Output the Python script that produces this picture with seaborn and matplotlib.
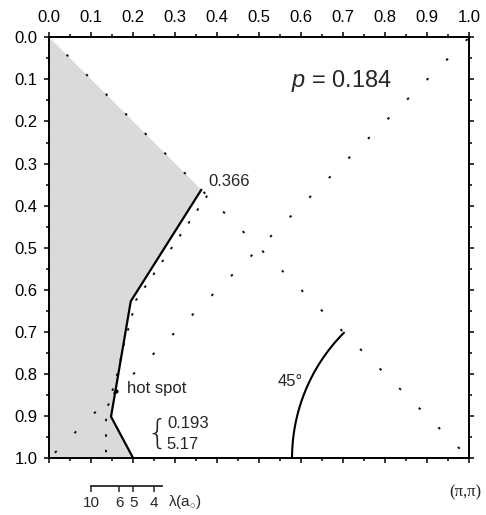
import numpy as np
import pandas as pd
import matplotlib
matplotlib.use("Agg")
import matplotlib.pyplot as plt
import seaborn as sns

# ---------------- data ----------------
ticks = [0.0, 0.1, 0.2, 0.3, 0.4, 0.5, 0.6, 0.7, 0.8, 0.9, 1.0]
tick_labels = ["0.0", "0.1", "0.2", "0.3", "0.4", "0.5", "0.6", "0.7", "0.8", "0.9", "1.0"]
minor_ticks = [0.05, 0.15, 0.25, 0.35, 0.45, 0.55, 0.65, 0.75, 0.85, 0.95]

# solid Fermi-surface segment (kx, ky) in units of pi
fs_x = [0.362, 0.194, 0.147, 0.200]
fs_y = [0.362, 0.627, 0.901, 1.000]

# dotted comparison curve
curve_x = [0.376, 0.206, 0.197, 0.178, 0.161, 0.140, 0.135, 0.135]
curve_y = [0.376, 0.625, 0.661, 0.729, 0.803, 0.875, 0.910, 1.000]

# zone diagonals
diag_x = [0.0, 1.0]
diag_y = [0.0, 1.0]
anti_x = [0.0, 1.0]
anti_y = [1.0, 0.0]

# hot spot
hot_x = [0.159]
hot_y = [0.841]

# 45 degree arc about (pi, pi)
arc_center = (1.0, 1.0)
arc_radius = 0.422
arc_deg = [180.0, 225.0]

# wavelength scale
lam_ticks = [10, 6, 5, 4]
lam_labels = ["10", "6", "5", "4"]
lam_range = [3.73, 10.0]

p_value = "0.184"
corner_value = "0.366"
brace_values = ["0.193", "5.17"]

# ---------------- style ----------------
sns.set_theme(style="ticks")
plt.rcParams["font.family"] = ["Liberation Sans", "DejaVu Sans"]
plt.rcParams["mathtext.fontset"] = "custom"
plt.rcParams["mathtext.rm"] = "Liberation Sans"
plt.rcParams["mathtext.it"] = "Liberation Sans:italic"
plt.rcParams["lines.scale_dashes"] = False

fig = plt.figure(figsize=(4.86, 5.15), dpi=100)
ax = fig.add_axes([0.1014, 0.110, 0.8642, 0.8176])

# gray filled region
poly_x = [0.0] + fs_x + [0.0]
poly_y = [0.0] + fs_y + [1.0]
ax.fill(poly_x, poly_y, color="#d9dadc", lw=0, zorder=1)

# dotted lines
dash_col = "#111111"
ax.plot(diag_x, diag_y, color=dash_col, lw=1.4, linestyle=(2.35, (1.8, 18.15)), zorder=2)
ax.plot(anti_x, anti_y, color=dash_col, lw=1.4, linestyle=(14.25, (1.8, 18.15)), zorder=2)
ax.plot(curve_x, curve_y, color=dash_col, lw=1.4, linestyle=(0, (1.8, 9.4)), zorder=2)

# solid line
df_fs = pd.DataFrame({"kx": fs_x, "ky": fs_y})
sns.lineplot(data=df_fs, x="kx", y="ky", sort=False, ax=ax, color="black", lw=1.6, zorder=3)

# hot spot
sns.scatterplot(x=hot_x, y=hot_y, ax=ax, color="black", s=9, linewidth=0, zorder=4)

# arc
th = np.radians(np.linspace(arc_deg[0], arc_deg[1], 60))
ax.plot(arc_center[0] + arc_radius * np.cos(th), arc_center[1] + arc_radius * np.sin(th),
        color="black", lw=1.5, zorder=3)

# axes setup
ax.set_xlim(0, 1)
ax.set_ylim(1, 0)
ax.set_xlabel("")
ax.set_ylabel("")
ax.set_xticks(ticks)
ax.set_xticklabels(tick_labels)
ax.set_yticks(ticks)
ax.set_yticklabels(tick_labels)
ax.set_xticks(minor_ticks, minor=True)
ax.set_yticks(minor_ticks, minor=True)
ax.tick_params(axis="x", which="both", top=True, bottom=True, labeltop=True, labelbottom=False,
               direction="out", color="black")
ax.tick_params(axis="y", which="both", left=True, right=True, labelleft=True, labelright=False,
               direction="out", color="black")
ax.tick_params(which="major", length=3.5, width=1.1, labelsize=12, pad=5, labelcolor="black")
ax.tick_params(which="minor", length=2.5, width=1.1)
for s in ax.spines.values():
    s.set_visible(True)
    s.set_linewidth(1.4)
    s.set_color("black")

# texts
ax.text(0.696, 0.103, r"$p$ = " + p_value, fontsize=17, ha="center", va="center")
ax.text(0.378, 0.343, corner_value, fontsize=12, ha="left", va="center")
ax.text(0.186, 0.833, "hot spot", fontsize=12, ha="left", va="center")
ax.text(0.280, 0.917, brace_values[0], fontsize=12, ha="left", va="center")
ax.text(0.280, 0.968, brace_values[1], fontsize=12, ha="left", va="center")
ax.text(0.257, 0.943, "{", fontsize=24, ha="center", va="center",
        family=["DejaVu Sans"], fontweight="light")
ax.text(0.573, 0.817, "45°", fontsize=12, ha="center", va="center")
ax.text(0.99, -0.08, "(π,π)", fontsize=12, ha="center", va="center",
        transform=ax.get_xaxis_transform(), family=["Liberation Serif", "DejaVu Serif"])


# wavelength scale (x = 1/lambda)
def inv(v):
    v = np.asarray(v, dtype=float)
    with np.errstate(divide="ignore", invalid="ignore"):
        out = 1.0 / np.where(np.abs(v) < 1e-6, 1e-6, v)
    return out


sec = ax.secondary_xaxis(-0.066, functions=(inv, inv))
sec.set_xticks(lam_ticks)
sec.set_xticklabels(lam_labels)
sec.tick_params(axis="x", direction="out", length=4, width=1.1, labelsize=11, pad=3)
sec.spines["bottom"].set_bounds(lam_range[0], lam_range[1])
sec.spines["bottom"].set_linewidth(1.3)
ax.text(0.283, -0.103, r"λ(a$_{\circ}$)", fontsize=11, ha="left", va="center",
        transform=ax.get_xaxis_transform())

fig.savefig("out.png", dpi=100)
